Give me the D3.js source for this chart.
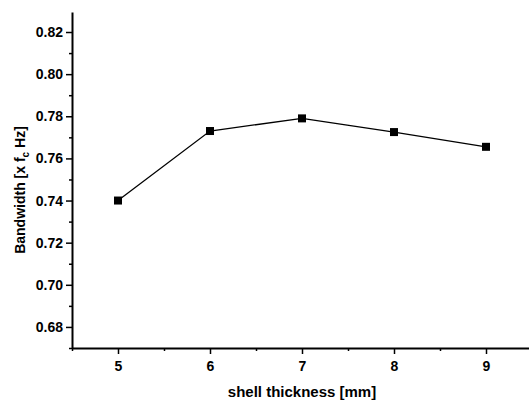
<!DOCTYPE html>
<html><head><meta charset="utf-8">
<script src="https://cdn.jsdelivr.net/npm/d3@7"></script>
<style>body{margin:0;background:#fff}svg{display:block}text{font-family:"Liberation Sans",Arial,sans-serif;font-weight:bold;fill:#000}</style>
</head><body><svg id="c" width="529" height="401"></svg>
<script>
const thickness = [5, 6, 7, 8, 9];
const bandwidth = [0.740, 0.773, 0.779, 0.7725, 0.7655];
const xTicks = [5, 6, 7, 8, 9];
const yTicks = [0.68, 0.70, 0.72, 0.74, 0.76, 0.78, 0.80, 0.82];
const xMinor = [4.5, 5.5, 6.5, 7.5, 8.5, 9.5];
const yMinor = [0.67, 0.69, 0.71, 0.73, 0.75, 0.77, 0.79, 0.81];

const svg = d3.select("#c");
const L = 72, R = 532, T = 12, B = 348;
const x = d3.scaleLinear().domain([4.5, 9.5]).range([L, R]);
const y = d3.scaleLinear().domain([0.67, 0.8295]).range([B, T]);

// minor ticks
svg.append("g").attr("transform", `translate(0,${B})`)
  .call(d3.axisBottom(x).tickValues(xMinor).tickSize(3).tickFormat(""))
  .call(g => g.select(".domain").remove())
  .selectAll("line").attr("stroke-width", 1.5);
svg.append("g").attr("transform", `translate(${L},0)`)
  .call(d3.axisLeft(y).tickValues(yMinor).tickSize(3).tickFormat(""))
  .call(g => g.select(".domain").remove())
  .selectAll("line").attr("stroke-width", 1.5);

// major axes
const xa = svg.append("g").attr("transform", `translate(0,${B})`)
  .call(d3.axisBottom(x).tickValues(xTicks).tickSize(6).tickSizeOuter(0).tickPadding(7).tickFormat(d3.format("d")));
const ya = svg.append("g").attr("transform", `translate(${L},0)`)
  .call(d3.axisLeft(y).tickValues(yTicks).tickSize(6).tickSizeOuter(0).tickPadding(3).tickFormat(d3.format(".2f")));
[xa, ya].forEach(g => {
  g.select(".domain").attr("stroke-width", 2);
  g.selectAll(".tick line").attr("stroke-width", 1.5);
  g.selectAll("text").style("font-size", "14px").attr("font-family", null);
});

// line + markers
svg.append("path").datum(thickness.map((t, i) => [t, bandwidth[i]]))
  .attr("fill", "none").attr("stroke", "#000").attr("stroke-width", 1.3)
  .attr("d", d3.line().x(d => x(d[0])).y(d => y(d[1])));
svg.selectAll("rect.m").data(thickness).enter().append("rect")
  .attr("class", "m")
  .attr("x", (d) => x(d) - 4).attr("y", (d, i) => y(bandwidth[i]) - 4)
  .attr("width", 8).attr("height", 8).attr("fill", "#000");

// axis labels
svg.append("text").attr("x", x(7)).attr("y", 397)
  .attr("text-anchor", "middle").style("font-size", "15px").text("shell thickness [mm]");
const yl = svg.append("text").attr("transform", `translate(25,190) rotate(-90)`)
  .attr("text-anchor", "middle").style("font-size", "14px");
yl.append("tspan").text("Bandwidth [x f");
yl.append("tspan").attr("dy", 4).style("font-size", "10px").text("c");
yl.append("tspan").attr("dy", -4).text(" Hz]");
</script></body></html>
